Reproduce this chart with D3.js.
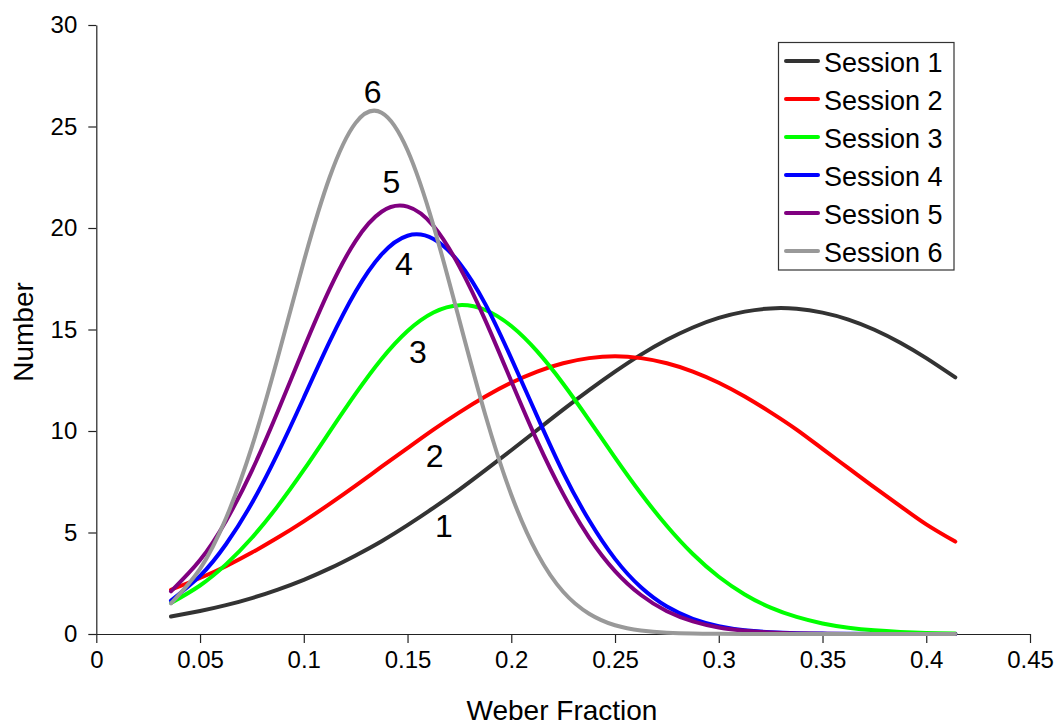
<!DOCTYPE html>
<html>
<head>
<meta charset="utf-8">
<script src="https://cdn.jsdelivr.net/npm/d3@7"></script>
<style>
  html, body { margin: 0; padding: 0; background: #fff; }
  svg { display: block; }
  text { font-family: "Liberation Sans", Arial, Helvetica, sans-serif; fill: #000; }
</style>
</head>
<body>
<svg id="chart" width="1054" height="725"></svg>
<script>
// ---- data ----
const xValues = [0.036, 0.05, 0.0625, 0.075, 0.0875, 0.1, 0.1125, 0.125, 0.1375, 0.15,
  0.1625, 0.175, 0.1875, 0.2, 0.2125, 0.225, 0.2375, 0.25, 0.2625, 0.275,
  0.2875, 0.3, 0.3125, 0.325, 0.3375, 0.35, 0.3625, 0.375, 0.3875, 0.4, 0.414];

const session1 = [0.86, 1.13, 1.42, 1.77, 2.19, 2.67, 3.23, 3.87, 4.57, 5.36,
  6.21, 7.11, 8.07, 9.05, 10.05, 11.05, 12.01, 12.92, 13.76, 14.49,
  15.10, 15.57, 15.88, 16.04, 16.02, 15.83, 15.49, 14.99, 14.35, 13.59, 12.64];
const session2 = [2.18, 2.76, 3.34, 4.01, 4.75, 5.55, 6.41, 7.31, 8.24, 9.16,
  10.07, 10.92, 11.70, 12.38, 12.93, 13.34, 13.59, 13.68, 13.59, 13.34,
  12.93, 12.38, 11.70, 10.92, 10.07, 9.12, 8.17, 7.22, 6.30, 5.40, 4.55];
const session3 = [1.53, 2.39, 3.43, 4.74, 6.31, 8.08, 9.97, 11.84, 13.55, 14.93,
  15.84, 16.20, 15.96, 15.17, 13.92, 12.33, 10.54, 8.69, 6.92, 5.32,
  3.94, 2.82, 1.95, 1.30, 0.84, 0.52, 0.31, 0.18, 0.10, 0.05, 0.03];
const session4 = [1.65, 2.86, 4.42, 6.45, 8.91, 11.64, 14.41, 16.87, 18.70, 19.62,
  19.46, 18.28, 16.25, 13.58, 10.72, 7.95, 5.60, 3.70, 2.30, 1.35,
  0.75, 0.39, 0.19, 0.09, 0.04, 0.02, 0.01, 0, 0, 0, 0];
const session5 = [2.10, 3.64, 5.57, 8.05, 10.97, 14.07, 17.00, 19.37, 20.80, 21.05,
  20.10, 18.10, 15.45, 12.45, 9.50, 6.90, 4.75, 3.10, 1.92, 1.12,
  0.62, 0.32, 0.16, 0.07, 0.03, 0.01, 0, 0, 0, 0, 0];
const session6 = [1.51, 3.21, 5.70, 9.23, 13.63, 18.35, 22.51, 25.18, 25.68, 23.83,
  20.12, 15.45, 10.79, 6.86, 3.97, 2.08, 1.00, 0.43, 0.17, 0.06,
  0.02, 0.01, 0, 0, 0, 0, 0, 0, 0, 0, 0];

const seriesNames = ["Session 1", "Session 2", "Session 3", "Session 4", "Session 5", "Session 6"];
const seriesValues = [session1, session2, session3, session4, session5, session6];
const seriesColors = ["#333333", "#ff0000", "#00ff00", "#0000ff", "#800080", "#999999"];

const xTicks = [0, 0.05, 0.1, 0.15, 0.2, 0.25, 0.3, 0.35, 0.4, 0.45];
const yTicks = [0, 5, 10, 15, 20, 25, 30];

// curve labels (text, x, y in data units)
const labelText = ["1", "2", "3", "4", "5", "6"];
const labelX = [0.1675, 0.1631, 0.155, 0.1482, 0.1422, 0.1332];
const labelY = [4.76, 8.24, 13.37, 17.68, 21.71, 26.14];

// ---- drawing ----
const svg = d3.select("#chart");
const x = d3.scaleLinear().domain([0, 0.45]).range([96.3, 1030]);
const y = d3.scaleLinear().domain([0, 30]).range([634, 25]);

const xAxis = svg.append("g")
  .attr("transform", "translate(0,634)")
  .call(d3.axisBottom(x).tickValues(xTicks).tickSize(9).tickSizeOuter(0)
    .tickFormat(d => d3.format("")(+d.toFixed(2))));
xAxis.selectAll("text").attr("font-size", 24).attr("dy", "0.35em").attr("y", 26);

const yAxis = svg.append("g")
  .attr("transform", "translate(96.3,0)")
  .call(d3.axisLeft(y).tickValues(yTicks).tickSize(8).tickSizeOuter(0));
yAxis.selectAll("text").attr("font-size", 24).attr("x", -19);

svg.selectAll(".domain, .tick line").attr("stroke", "#222").attr("stroke-width", 1.2);
svg.selectAll(".tick text").attr("font-family", "'Liberation Sans', Arial, sans-serif").attr("fill", "#000");

// axis titles
svg.append("text").attr("x", 562).attr("y", 720).attr("text-anchor", "middle")
  .attr("font-size", 28).text("Weber Fraction");
svg.append("text").attr("transform", "translate(33,332) rotate(-90)")
  .attr("text-anchor", "middle").attr("font-size", 28).text("Number");

// lines
const line = d3.line()
  .x((d, i) => x(xValues[i]))
  .y(d => y(d))
  .curve(d3.curveNatural);

seriesValues.forEach((vals, k) => {
  svg.append("path")
    .datum(vals)
    .attr("fill", "none")
    .attr("stroke", seriesColors[k])
    .attr("stroke-width", 4)
    .attr("stroke-linecap", "round")
    .attr("stroke-linejoin", "round")
    .attr("d", line);
});

// curve labels
labelText.forEach((t, i) => {
  svg.append("text")
    .attr("x", x(labelX[i]))
    .attr("y", y(labelY[i]))
    .attr("text-anchor", "middle")
    .attr("font-size", 32)
    .text(t);
});

// legend
const legend = svg.append("g");
legend.append("rect")
  .attr("x", 778.5).attr("y", 42.5).attr("width", 175.5).attr("height", 227.5)
  .attr("fill", "#fff").attr("stroke", "#333").attr("stroke-width", 1.2);
seriesNames.forEach((name, i) => {
  const ly = 61 + i * 38;
  legend.append("line")
    .attr("x1", 786).attr("x2", 818).attr("y1", ly).attr("y2", ly)
    .attr("stroke", seriesColors[i]).attr("stroke-width", 4).attr("stroke-linecap", "round");
  legend.append("text")
    .attr("x", 824).attr("y", ly + 11)
    .attr("font-size", 27).text(name);
});
</script>
</body>
</html>
